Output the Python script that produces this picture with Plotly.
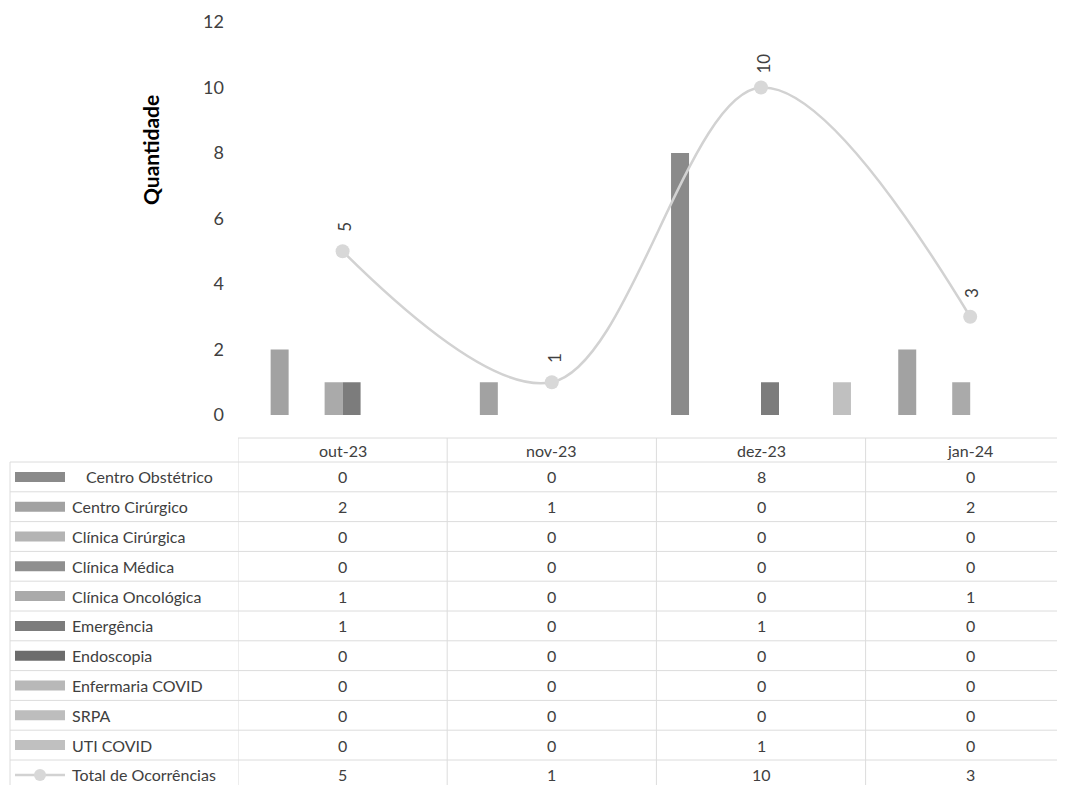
import plotly.graph_objects as go

categories = ["out-23", "nov-23", "dez-23", "jan-24"]
series_names = [
    "Centro Obstétrico", "Centro Cirúrgico", "Clínica Cirúrgica", "Clínica Médica",
    "Clínica Oncológica", "Emergência", "Endoscopia", "Enfermaria COVID", "SRPA", "UTI COVID",
]
centro_obstetrico = [0, 0, 8, 0]
centro_cirurgico = [2, 1, 0, 2]
clinica_cirurgica = [0, 0, 0, 0]
clinica_medica = [0, 0, 0, 0]
clinica_oncologica = [1, 0, 0, 1]
emergencia = [1, 0, 1, 0]
endoscopia = [0, 0, 0, 0]
enfermaria_covid = [0, 0, 0, 0]
srpa = [0, 0, 0, 0]
uti_covid = [0, 0, 1, 0]
total_name = "Total de Ocorrências"
total = [5, 1, 10, 3]
y_ticks = [0, 2, 4, 6, 8, 10, 12]

series_values = [centro_obstetrico, centro_cirurgico, clinica_cirurgica, clinica_medica,
                 clinica_oncologica, emergencia, endoscopia, enfermaria_covid, srpa, uti_covid]
colors = ["#8a8a8a", "#a2a2a2", "#b4b4b4", "#8f8f8f", "#aaaaaa",
          "#7c7c7c", "#6c6c6c", "#b8b8b8", "#bdbdbd", "#c0c0c0"]
line_color = "#d2d2d2"
text_color = "#404040"
grid_color = "#dcdcdc"
FONT = "Lato"

# page body has an 8px margin; design in screen pixels and convert
OFF = 8
W, H = 1065 - OFF, 785 - OFF
def px(x):
    return (x - OFF) / W
def py(y):
    return 1 - (y - OFF) / H

x_left = 238
cat_w = 209.2
x_range = [-0.5, (1065 - x_left) / cat_w - 0.5]

fig = go.Figure()
for name, vals, col in zip(series_names, series_values, colors):
    fig.add_trace(go.Bar(x=list(range(len(categories))), y=vals, name=name,
                         marker=dict(color=col, line=dict(width=0))))
fig.add_trace(go.Scatter(x=list(range(len(categories))), y=total, name=total_name,
                         mode="lines+markers",
                         line=dict(color=line_color, width=2.5, shape="spline", smoothing=1.0),
                         marker=dict(symbol="circle", size=14, color="#d8d8d8")))

annotations = []
# data labels on total line
for i, v in enumerate(total):
    annotations.append(dict(x=i, y=v, xref="x", yref="y", text=str(v), showarrow=False,
                            textangle=-90, yshift=24, xshift=2,
                            xanchor="center", yanchor="middle",
                            font=dict(family=FONT, size=17, color=text_color)))
# y axis title
annotations.append(dict(x=px(150), y=py(150), xref="paper", yref="paper", text="<b>Quantidade</b>",
                        showarrow=False, textangle=-90, xanchor="center", yanchor="middle",
                        font=dict(family=FONT, size=21, color="#000000")))

shapes = []
header_y = 450
row_top = 462
row_h = 29.8
# header labels
for i, c in enumerate(categories):
    annotations.append(dict(x=i, y=py(header_y), xref="x", yref="paper", text=c, showarrow=False,
                            xanchor="center", yanchor="middle",
                            font=dict(family=FONT, size=16, color=text_color)))
# table rows
all_names = series_names + [total_name]
all_vals = series_values + [total]
for r, (name, vals) in enumerate(zip(all_names, all_vals)):
    yc = row_top + row_h * (r + 0.5)
    lx = 84 if r == 0 else 70
    annotations.append(dict(x=px(lx), y=py(yc), xref="paper", yref="paper", text=name,
                            showarrow=False, xanchor="left", yanchor="middle",
                            font=dict(family=FONT, size=16, color=text_color)))
    for i, v in enumerate(vals):
        annotations.append(dict(x=i, y=py(yc), xref="x", yref="paper", text=str(v),
                                showarrow=False, xanchor="center", yanchor="middle",
                                font=dict(family=FONT, size=16, color=text_color)))
    # legend key
    if r < len(series_names):
        shapes.append(dict(type="rect", xref="paper", yref="paper",
                           x0=px(15), x1=px(65), y0=py(yc + 5), y1=py(yc - 5),
                           fillcolor=colors[r], line=dict(width=0)))
    else:
        shapes.append(dict(type="line", xref="paper", yref="paper",
                           x0=px(15), x1=px(65), y0=py(yc), y1=py(yc),
                           line=dict(color=line_color, width=2.5)))
        shapes.append(dict(type="circle", xref="paper", yref="paper",
                           x0=px(34), x1=px(46), y0=py(yc + 6), y1=py(yc - 6),
                           fillcolor="#d8d8d8", line=dict(width=0)))

n_rows = len(all_names)
table_bottom = row_top + row_h * n_rows
# horizontal grid lines
shapes.append(dict(type="line", xref="paper", yref="paper", x0=px(x_left), x1=1,
                   y0=py(438), y1=py(438), line=dict(color=grid_color, width=1)))
for k in range(n_rows + 1):
    yy = row_top + row_h * k
    shapes.append(dict(type="line", xref="paper", yref="paper", x0=px(10), x1=1,
                       y0=py(yy), y1=py(yy), line=dict(color=grid_color, width=1)))
# vertical grid lines
shapes.append(dict(type="line", xref="paper", yref="paper", x0=px(10), x1=px(10),
                   y0=py(row_top), y1=py(table_bottom), line=dict(color=grid_color, width=1)))
for i in range(len(categories)):
    shapes.append(dict(type="line", xref="x", yref="paper", x0=i - 0.5, x1=i - 0.5,
                       y0=py(438), y1=py(table_bottom), line=dict(color=grid_color, width=1)))

fig.update_layout(
    width=W, height=H,
    margin=dict(l=0, r=0, t=0, b=0, autoexpand=False),
    paper_bgcolor="white", plot_bgcolor="white",
    barmode="group", bargap=0.14, bargroupgap=0,
    showlegend=False,
    xaxis=dict(domain=[px(x_left), 1], range=x_range, showticklabels=False, automargin=False,
               showgrid=False, zeroline=False, showline=False, ticks=""),
    yaxis=dict(domain=[py(415), py(22)], range=[0, 12], tickvals=y_ticks, automargin=False,
               showgrid=False, zeroline=False, showline=False, ticks="",
               ticklabelstandoff=13,
               tickfont=dict(family=FONT, size=18, color=text_color)),
    annotations=annotations,
    shapes=shapes,
)

fig.write_html("out.html")
